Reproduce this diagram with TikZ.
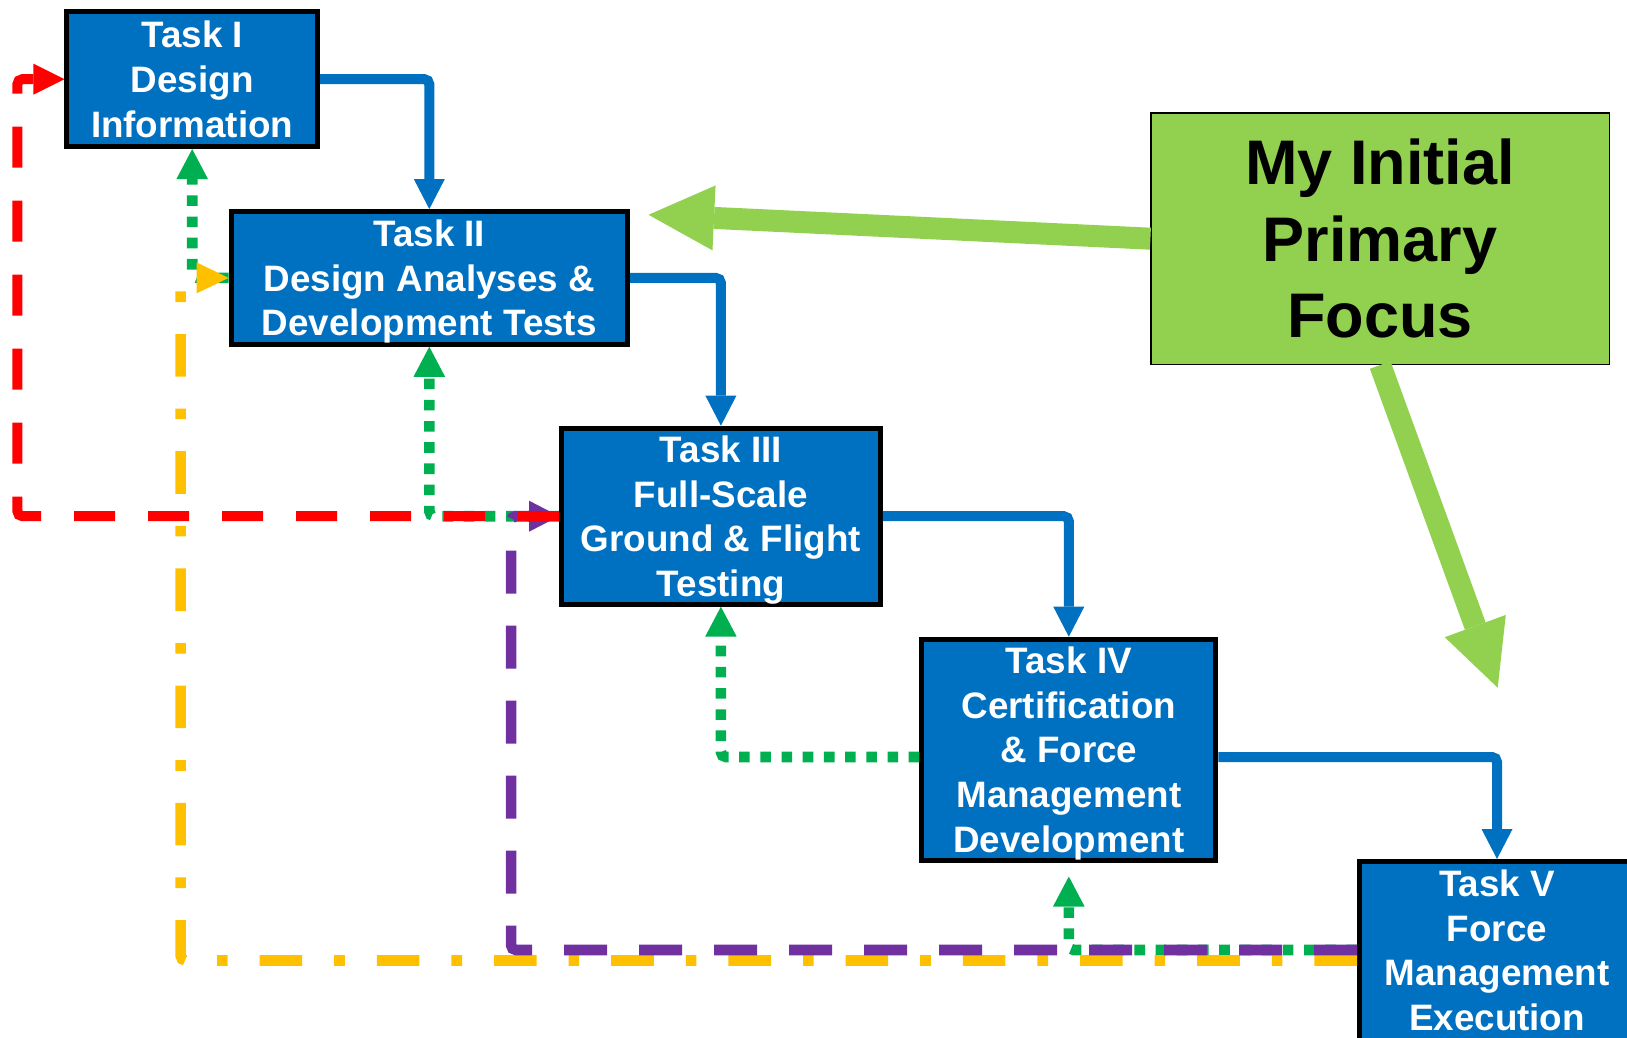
\documentclass[tikz,border=0pt]{standalone}
\usepackage{fontspec}
\setmainfont{Liberation Sans}
\usetikzlibrary{arrows.meta}
\definecolor{taskblue}{HTML}{0070C0}
\definecolor{focusgreen}{HTML}{92D050}
\definecolor{reviewgreen}{HTML}{00B050}
\definecolor{loopred}{HTML}{FF0000}
\definecolor{updateorange}{HTML}{FFC000}
\definecolor{datapurple}{HTML}{7030A0}

\begin{document}
\begin{tikzpicture}[
    x=0.5pt, y=-0.5pt,
    task/.style={rectangle, draw=black, line width=2.5pt, fill=taskblue,
        text=white, align=center, inner sep=0pt, text depth=-2pt,
        font=\bfseries\fontsize{18.4}{22.3}\selectfont},
    focus/.style={rectangle, draw=black, line width=0.6pt, fill=focusgreen,
        align=center, inner sep=0pt,
        font=\bfseries\fontsize{31.5}{38.2}\selectfont},
    flow/.style={draw=taskblue, line width=5pt, rounded corners=2.5pt,
        -{Triangle[length=15pt, width=15.5pt, line width=0pt]}},
    loopback/.style={draw=loopred, line width=5pt, rounded corners=2.5pt,
        dash pattern=on 20.5pt off 16.5pt,
        -{Triangle[length=15.5pt, width=15.5pt, line width=0pt]}},
    review/.style={draw=reviewgreen, line width=5.3pt, rounded corners=2.5pt,
        dash pattern=on 5.3pt off 5.3pt,
        -{Triangle[length=15pt, width=15.8pt, line width=0pt]}},
    update/.style={draw=updateorange, line width=5.3pt, rounded corners=2.5pt,
        dash pattern=on 21.3pt off 16pt on 5.3pt off 16pt,
        -{Triangle[length=16pt, width=15.5pt, line width=0pt]}},
    fielddata/.style={draw=datapurple, line width=5.3pt, rounded corners=2.5pt,
        dash pattern=on 21.5pt off 16pt,
        -{Triangle[length=15pt, width=15.5pt, line width=0pt]}},
    pointer/.style={draw=focusgreen, line width=11pt,
        -{Triangle[length=32.8pt, width=32.5pt, line width=0pt]}}
]
\useasboundingbox (0,0) rectangle (1627,1038);
\clip (0,0) rectangle (1627,1038);

\node (TaskI) [task, minimum width=125.3pt, minimum height=67.35pt]
  at (192.2,79.2) {Task I\\Design\\Information};
\node (TaskII) [task, minimum width=198.25pt, minimum height=66.35pt]
  at (429.3,277.9) {Task II\\Design Analyses \&\\Development Tests};
\node (TaskIII) [task, minimum width=159.35pt, minimum height=88pt]
  at (720.9,516.2) {Task III\\Full-Scale\\Ground \& Flight\\Testing};
\node (TaskIV) [task, minimum width=147pt, minimum height=110.4pt]
  at (1068.8,749.6) {Task IV\\Certification\\\& Force\\Management\\Development};
\node (TaskV) [task, minimum width=137.5pt, minimum height=90.5pt, text depth=2pt]
  at (1497,952) {Task V\\Force\\Management\\Execution};
\node (focus) [focus, minimum width=229.2pt, minimum height=125.75pt]
  at (1380.2,238.7) {My Initial\\Primary\\Focus};

\coordinate (tipTaskII) at (648.5,214.8);
\coordinate (tipTaskV) at (1497.7,687.7);

\draw[review] (TaskII.west) -| (TaskI.south);
\draw[review] (TaskIII.west) -| (TaskII.south);
\draw[review] ([yshift=-3.7pt]TaskIV.west) -| (TaskIII.south);
\draw[review, shorten >=7pt] ([yshift=1pt]TaskV.west) -| (TaskIV.south);

\draw[update] ([yshift=-4.25pt]TaskV.west) -| ([xshift=-24pt]TaskII.west)
  -- (TaskII.west);
\draw[fielddata] ([yshift=1pt]TaskV.west) -| ([xshift=-24pt]TaskIII.west)
  -- (TaskIII.west);
\draw[loopback] (TaskIII.west) -| ([xshift=-23.5pt]TaskI.west)
  -- (TaskI.west);

\draw[flow] (TaskI.east) -| (TaskII.north);
\draw[flow] (TaskII.east) -| (TaskIII.north);
\draw[flow] (TaskIII.east) -| (TaskIV.north);
\draw[flow] ([yshift=-3.7pt]TaskIV.east) -| (TaskV.north);

\draw[pointer] (focus.west) -- (tipTaskII);
\draw[pointer] (focus.south) -- (tipTaskV);

\end{tikzpicture}
\end{document}
